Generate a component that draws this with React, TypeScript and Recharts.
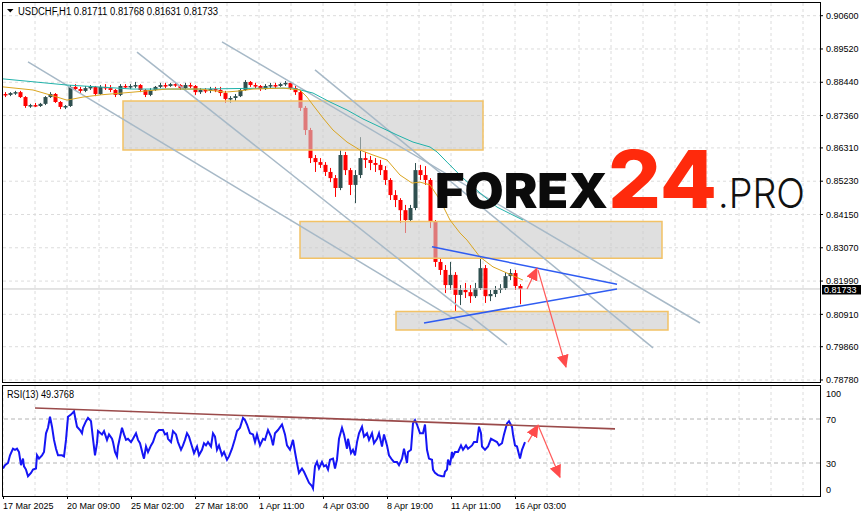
import React from 'react';
import {
  ComposedChart,
  Bar,
  Line,
  XAxis,
  YAxis,
  CartesianGrid,
  ReferenceArea,
  ReferenceLine,
} from 'recharts';

// ---------- DATA ----------
// H1 USDCHF candles aggregated in 5-hour buckets (hours counted from the first visible bar)
const opens = [
  0.8806, 0.8803, 0.8809, 0.8812, 0.8796, 0.8767, 0.877, 0.8767, 0.8774, 0.8796,
  0.8806, 0.878, 0.8764, 0.8767, 0.8829, 0.8822, 0.8816, 0.8825, 0.8829, 0.8806,
  0.8829, 0.8825, 0.8819, 0.8803, 0.8832, 0.8829, 0.8832, 0.8835, 0.8819, 0.8803,
  0.8819, 0.8829, 0.8835, 0.8832, 0.8838, 0.8835, 0.8825, 0.8835, 0.8832, 0.8812,
  0.8819, 0.8816, 0.8822, 0.8819, 0.8809, 0.879, 0.8793, 0.8799, 0.8819, 0.8845,
  0.8835, 0.8832, 0.8822, 0.8832, 0.8835, 0.8832, 0.8838, 0.8842, 0.8825, 0.8812,
  0.8761, 0.8689, 0.8598, 0.8585, 0.8576, 0.8553, 0.8533, 0.8501, 0.8608, 0.8559,
  0.8511, 0.8543, 0.8598, 0.8592, 0.8582, 0.8576, 0.8559, 0.8527, 0.8478, 0.8462,
  0.8429, 0.8397, 0.8436, 0.8559, 0.8543, 0.8527, 0.8391, 0.8261, 0.8235, 0.8186,
  0.8219, 0.8154, 0.817, 0.8163, 0.815, 0.8176, 0.8241, 0.815, 0.8157, 0.817,
  0.8176, 0.8215, 0.8225, 0.8183,
];
const highs = [
  0.8812, 0.8812, 0.8816, 0.8816, 0.8799, 0.8774, 0.8777, 0.8777, 0.8799, 0.8812,
  0.8809, 0.8783, 0.877, 0.8835, 0.8838, 0.8829, 0.8832, 0.8835, 0.8832, 0.8835,
  0.8838, 0.8835, 0.8822, 0.8838, 0.8838, 0.8838, 0.8845, 0.8838, 0.8822, 0.8825,
  0.8832, 0.8842, 0.8842, 0.8842, 0.8845, 0.8838, 0.8842, 0.8842, 0.8835, 0.8825,
  0.8825, 0.8829, 0.8829, 0.8829, 0.8816, 0.8799, 0.8806, 0.8825, 0.8851, 0.8848,
  0.8842, 0.8835, 0.8838, 0.8842, 0.8842, 0.8842, 0.8848, 0.8845, 0.8832, 0.8819,
  0.8767, 0.8696, 0.8608, 0.8598, 0.8585, 0.8566, 0.8543, 0.8624, 0.8618, 0.8566,
  0.8559, 0.8666, 0.8618, 0.8605, 0.8598, 0.8592, 0.8572, 0.8533, 0.8494, 0.8468,
  0.8446, 0.8446, 0.8582, 0.8576, 0.8572, 0.8533, 0.8397, 0.8274, 0.8251, 0.8261,
  0.8228, 0.8186, 0.8193, 0.8186, 0.8193, 0.8271, 0.8251, 0.817, 0.8183, 0.8189,
  0.8228, 0.8238, 0.8235, 0.8189,
];
const lows = [
  0.8796, 0.8799, 0.8803, 0.8793, 0.8761, 0.8761, 0.8764, 0.8764, 0.877, 0.8793,
  0.8777, 0.8757, 0.8757, 0.8764, 0.8816, 0.8809, 0.8812, 0.8819, 0.8799, 0.8803,
  0.8819, 0.8812, 0.8796, 0.8799, 0.8825, 0.8822, 0.8825, 0.8812, 0.8796, 0.8799,
  0.8816, 0.8825, 0.8825, 0.8829, 0.8829, 0.8819, 0.8822, 0.8825, 0.8803, 0.8806,
  0.8809, 0.8809, 0.8812, 0.8799, 0.8777, 0.8777, 0.8783, 0.8796, 0.8816, 0.8829,
  0.8825, 0.8816, 0.8819, 0.8825, 0.8825, 0.8829, 0.8832, 0.8819, 0.8803, 0.8751,
  0.8673, 0.8582, 0.8553, 0.8566, 0.854, 0.852, 0.8472, 0.8494, 0.8543, 0.8478,
  0.8452, 0.8533, 0.8566, 0.8559, 0.8553, 0.8543, 0.8511, 0.8462, 0.8439, 0.8387,
  0.8355, 0.8391, 0.8429, 0.8527, 0.8511, 0.8371, 0.8245, 0.8219, 0.816, 0.817,
  0.8099, 0.8121, 0.8144, 0.8128, 0.8144, 0.817, 0.8128, 0.8134, 0.8147, 0.816,
  0.817, 0.8202, 0.817, 0.8124,
];
const closes = [
  0.8803, 0.8809, 0.8812, 0.8796, 0.8767, 0.877, 0.8767, 0.8774, 0.8796, 0.8806,
  0.878, 0.8764, 0.8767, 0.8829, 0.8822, 0.8816, 0.8825, 0.8829, 0.8806, 0.8829,
  0.8825, 0.8819, 0.8803, 0.8832, 0.8829, 0.8832, 0.8835, 0.8819, 0.8803, 0.8819,
  0.8829, 0.8835, 0.8832, 0.8838, 0.8835, 0.8825, 0.8835, 0.8832, 0.8812, 0.8819,
  0.8816, 0.8822, 0.8819, 0.8809, 0.879, 0.8793, 0.8799, 0.8819, 0.8845, 0.8835,
  0.8832, 0.8822, 0.8832, 0.8835, 0.8832, 0.8838, 0.8842, 0.8825, 0.8812, 0.8761,
  0.8689, 0.8598, 0.8585, 0.8576, 0.8553, 0.8533, 0.8501, 0.8608, 0.8559, 0.8511,
  0.8543, 0.8598, 0.8592, 0.8582, 0.8576, 0.8559, 0.8527, 0.8478, 0.8462, 0.8429,
  0.8397, 0.8436, 0.8559, 0.8543, 0.8527, 0.8391, 0.8261, 0.8235, 0.8186, 0.8219,
  0.8154, 0.817, 0.8163, 0.815, 0.8176, 0.8241, 0.815, 0.8157, 0.817, 0.8176,
  0.8215, 0.8225, 0.8183, 0.8173,
];

// moving averages: [hour, price]
const maSlowPoints: [number, number][] = [
  [0, 0.8855], [64, 0.8835], [130, 0.8822], [197, 0.8822], [264, 0.8825], [290, 0.8825],
  [310, 0.8809], [327, 0.878], [344, 0.8754], [360, 0.8725], [377, 0.8699], [394, 0.8673],
  [410, 0.865], [427, 0.8634], [434, 0.8618], [444, 0.8585], [460, 0.8533], [477, 0.8485],
  [494, 0.8439], [510, 0.8413], [520, 0.8397],
];
const maFastPoints: [number, number][] = [
  [0, 0.8829], [30, 0.8819], [47, 0.8803], [64, 0.8786], [80, 0.8796], [97, 0.8803],
  [130, 0.8812], [164, 0.8822], [197, 0.8822], [222, 0.8812], [237, 0.8816], [250, 0.8822],
  [280, 0.8825], [297, 0.8819], [304, 0.8796], [310, 0.877], [320, 0.8728], [330, 0.8689],
  [344, 0.865], [357, 0.8624], [370, 0.8608], [384, 0.8592], [397, 0.8543], [409, 0.8517],
  [417, 0.852], [427, 0.8511], [437, 0.8462], [447, 0.8397], [457, 0.8355], [464, 0.8332],
  [477, 0.8277], [490, 0.8245], [504, 0.8225], [520, 0.8202],
];

// RSI(13): [hour, value]
const rsiPoints: [number, number][] = [
  [0, 25], [2, 28], [5, 30], [7, 37], [10, 43], [12, 42], [14, 43], [16, 40], [18, 28], [20, 34],
  [21, 27], [23, 24], [25, 18], [28, 21], [30, 24], [33, 25], [34, 37], [36, 34], [39, 37], [41, 40],
  [43, 57], [45, 62], [47, 72], [49, 63], [51, 51], [53, 43], [55, 37], [59, 37], [61, 36], [63, 51],
  [65, 72], [68, 74], [71, 77], [74, 63], [77, 60], [79, 57], [80, 62], [83, 68], [85, 71], [88, 68],
  [90, 52], [92, 37], [94, 48], [95, 59], [99, 56], [101, 59], [104, 51], [106, 56], [109, 52], [110, 49],
  [112, 40], [114, 36], [115, 45], [119, 62], [121, 56], [123, 51], [125, 52], [128, 49], [130, 52], [133, 57],
  [135, 51], [137, 48], [140, 37], [141, 34], [143, 45], [145, 40], [148, 46], [150, 49], [153, 57], [156, 60],
  [160, 60], [162, 56], [164, 57], [165, 52], [168, 49], [170, 59], [173, 56], [175, 49], [178, 42], [180, 46],
  [182, 51], [184, 57], [186, 54], [189, 45], [191, 39], [194, 45], [196, 37], [199, 42], [201, 48], [203, 46],
  [205, 49], [208, 45], [210, 57], [212, 54], [214, 42], [216, 46], [219, 37], [221, 40], [224, 33], [226, 36],
  [229, 43], [232, 52], [234, 59], [237, 62], [240, 71], [242, 69], [244, 65], [247, 57], [250, 56], [252, 49],
  [254, 56], [257, 46], [260, 52], [262, 51], [265, 60], [268, 54], [270, 46], [272, 57], [275, 60], [279, 65],
  [282, 56], [284, 46], [287, 42], [290, 51], [292, 40], [294, 30], [296, 21], [299, 25], [301, 22], [304, 16],
  [306, 12], [309, 9], [310, 7], [312, 27], [314, 31], [316, 25], [319, 31], [321, 27], [323, 28], [325, 24],
  [327, 33], [330, 34], [332, 25], [334, 33], [336, 52], [339, 62], [341, 56], [344, 43], [345, 52], [348, 39],
  [350, 42], [352, 37], [354, 49], [356, 57], [359, 63], [361, 54], [364, 57], [366, 51], [369, 57], [371, 48],
  [374, 52], [376, 57], [379, 45], [381, 56], [384, 46], [386, 37], [389, 33], [391, 31], [394, 31], [396, 28],
  [399, 34], [401, 43], [404, 30], [405, 40], [408, 42], [410, 66], [412, 69], [414, 65], [417, 57], [420, 57],
  [422, 65], [424, 42], [426, 34], [429, 33], [430, 24], [432, 21], [435, 19], [439, 18], [441, 18], [442, 22],
  [444, 24], [445, 33], [447, 28], [449, 40], [450, 36], [452, 40], [455, 40], [458, 46], [460, 42], [463, 46],
  [465, 43], [469, 46], [471, 49], [474, 49], [476, 63], [478, 57], [479, 45], [482, 42], [485, 45], [488, 52],
  [490, 51], [494, 49], [496, 46], [499, 48], [501, 56], [504, 66], [506, 68], [509, 63], [510, 56], [512, 46],
  [514, 45], [517, 34], [519, 42], [522, 49],
];

// drawn objects (hour, price)
const channelLines: [number, number][][] = [
  [[219, 0.8975], [697, 0.8063]],
  [[312, 0.8884], [650, 0.7982]],
  [[25, 0.891], [470, 0.804]],
  [[134, 0.8942], [504, 0.7992]],
];
const triangleLines: [number, number][][] = [
  [[429, 0.831], [614, 0.8189]],
  [[421, 0.8063], [614, 0.8173]],
];
const priceArrows: [number, number][][] = [
  [[524, 0.8173], [534, 0.8241]],
  [[535, 0.8235], [563, 0.792]],
];
const zones = [
  { from: 120, to: 480, low: 0.8624, high: 0.8783 },
  { from: 297, to: 659, low: 0.8273, high: 0.8392 },
  { from: 393, to: 665, low: 0.804, high: 0.81 },
];
const rsiTrend: [number, number][] = [[32, 80], [612, 61]];
const rsiArrows: [number, number][][] = [
  [[525, 49], [535, 64.5]],
  [[535, 64.5], [557, 17]],
];

const priceTicks = [0.906, 0.8952, 0.8844, 0.8736, 0.8631, 0.8523, 0.8415, 0.8307, 0.8199, 0.8091, 0.7986, 0.7878];
const rsiTicks = [0, 30, 70, 100];
const gridTicks = [0, 32, 64, 96, 128, 160, 192, 224, 256, 288, 320, 352, 384, 416, 448, 480, 512, 544, 576, 608, 640, 672, 704, 736, 768, 800];
const dateTicks = [0, 64, 128, 192, 256, 320, 384, 448, 512];
const dateLabels = ['17 Mar 2025', '20 Mar 09:00', '25 Mar 02:00', '27 Mar 18:00', '1 Apr 11:00', '4 Apr 03:00', '8 Apr 19:00', '11 Apr 11:00', '16 Apr 03:00'];
const lastBar = { open: 0.81711, high: 0.81768, low: 0.81631, close: 0.81733 };
const rsiLast = 49.3768;

// ---------- BUILD ----------
const candles = opens.map((o, k) => ({
  idx: k * 5 + 2.5,
  open: o,
  high: highs[k],
  low: lows[k],
  close: closes[k],
  range: [lows[k], highs[k]],
}));
const toRows = (pts: [number, number][]) => pts.map(([idx, v]) => ({ idx, v }));
const rsiData = toRows(rsiPoints);

const FONT = 'Liberation Sans, Arial, sans-serif';
const X_DOMAIN: [number, number] = [0, 817];

const Candle = (props: any) => {
  const { x, y, width, height, payload } = props;
  if (!payload || !isFinite(y) || !isFinite(height)) return <g />;
  const { open, close, high, low } = payload;
  const up = close >= open;
  const color = up ? '#2f4f4f' : '#ff0000';
  const k = height / Math.max(high - low, 1e-9);
  const c = Math.round(x + width / 2);
  const top = y + (high - Math.max(open, close)) * k;
  const bh = Math.max(1.5, Math.abs(close - open) * k);
  return (
    <g>
      <line x1={c + 0.5} x2={c + 0.5} y1={y} y2={y + height} stroke={color} strokeWidth={1} />
      <rect x={c - 1.5} y={top} width={4} height={bh} fill={color} />
    </g>
  );
};

const PriceTag = (props: any) => {
  const vb = props.viewBox || {};
  const x = (vb.x || 0) + (vb.width || 0) + 2;
  const y = vb.y || 0;
  return (
    <g>
      <rect x={x} y={y - 4} width={39} height={9.5} fill="#000" />
      <text x={x + 2} y={y + 4} fill="#fff" fontSize={9} fontFamily={FONT}>
        {lastBar.close.toFixed(5)}
      </text>
    </g>
  );
};

const DateTick = (props: any) => {
  const { x, y, payload } = props;
  const i = dateTicks.indexOf(payload?.value);
  if (i < 0) return <g />;
  return (
    <g>
      <line x1={x + 0.5} x2={x + 0.5} y1={y} y2={y + 3} stroke="#000" />
      <text x={x} y={y + 13} fontSize={9} fontFamily={FONT} fill="#000" textAnchor="start">
        {dateLabels[i]}
      </text>
    </g>
  );
};

const RsiTick = (props: any) => {
  const { x, y, payload } = props;
  const v = payload?.value;
  const shift = v === 100 ? 7 : v === 0 ? -7 : 0;
  return (
    <text x={x} y={y + shift + 3.5} fontSize={9} fontFamily={FONT} fill="#000" textAnchor="start">
      {v}
    </text>
  );
};

export default function App() {
  return (
    <div style={{ position: 'absolute', left: 0, top: 0, width: 866, height: 517, background: '#fff', overflow: 'hidden' }}>
      <div style={{ position: 'absolute', left: 0, top: 0 }}>
        <ComposedChart width={866} height={384} data={candles} margin={{ top: 3, right: 0, bottom: 2, left: 3 }}>
          <defs>
            <marker id="arrowHeadRed" markerUnits="userSpaceOnUse" markerWidth="14" markerHeight="12" refX="12" refY="6" orient="auto">
              <path d="M0,0 L13,6 L0,12 Z" fill="#ff4b4b" />
            </marker>
          </defs>
          <CartesianGrid stroke="#dcdcdc" strokeDasharray="3 3" verticalValues={gridTicks} horizontalValues={priceTicks} />
          <XAxis dataKey="idx" type="number" domain={X_DOMAIN} ticks={gridTicks} hide allowDataOverflow />
          <YAxis
            orientation="right"
            width={46}
            domain={[0.78715, 0.91012]}
            ticks={priceTicks}
            interval={0}
            allowDataOverflow
            axisLine={false}
            tickSize={3}
            tickMargin={3}
            tickLine={{ stroke: '#000' }}
            tick={{ fontSize: 9, fill: '#000', fontFamily: FONT }}
            tickFormatter={(v: number) => v.toFixed(5)}
          />
          <ReferenceLine y={lastBar.close} stroke="#c8c8c8" label={<PriceTag />} />
          {channelLines.map((s, i) => (
            <Line key={'ch' + i} data={toRows(s)} dataKey="v" stroke="#a7b9c7" strokeWidth={1.5} dot={false} activeDot={false} isAnimationActive={false} />
          ))}
          <Bar dataKey="range" shape={<Candle />} barSize={3} isAnimationActive={false} />
          <Line data={toRows(maSlowPoints)} dataKey="v" stroke="#20b2aa" strokeWidth={1} dot={false} activeDot={false} isAnimationActive={false} />
          <Line data={toRows(maFastPoints)} dataKey="v" stroke="#daa520" strokeWidth={1} dot={false} activeDot={false} isAnimationActive={false} />
          {zones.map((z, i) => (
            <ReferenceArea key={'z' + i} x1={z.from} x2={z.to} y1={z.low} y2={z.high} fill="#c9c9c9" fillOpacity={0.6} stroke="#f2c266" strokeWidth={1.5} strokeOpacity={1} ifOverflow="visible" zIndex={350} />
          ))}
          {triangleLines.map((s, i) => (
            <Line key={'tr' + i} data={toRows(s)} dataKey="v" stroke="#2f5cf2" strokeWidth={1.5} dot={false} activeDot={false} isAnimationActive={false} />
          ))}
          {priceArrows.map((s, i) => (
            <Line key={'ar' + i} data={toRows(s)} dataKey="v" stroke="#ff5a5a" strokeWidth={1.2} dot={false} activeDot={false} isAnimationActive={false} markerEnd="url(#arrowHeadRed)" />
          ))}
        </ComposedChart>
      </div>
      <div style={{ position: 'absolute', left: 0, top: 380 }}>
        <ComposedChart width={866} height={137} data={rsiData} margin={{ top: 6, right: 0, bottom: 0, left: 3 }}>
          <defs>
            <marker id="arrowHeadRed2" markerUnits="userSpaceOnUse" markerWidth="14" markerHeight="12" refX="12" refY="6" orient="auto">
              <path d="M0,0 L13,6 L0,12 Z" fill="#ff4b4b" />
            </marker>
          </defs>
          <CartesianGrid stroke="#dcdcdc" strokeDasharray="3 3" horizontal={false} verticalValues={gridTicks} />
          <XAxis
            dataKey="idx"
            type="number"
            domain={X_DOMAIN}
            ticks={gridTicks}
            interval={0}
            allowDataOverflow
            height={21}
            axisLine={false}
            tickLine={false}
            tickSize={0}
            tickMargin={0}
            tick={<DateTick />}
          />
          <YAxis
            orientation="right"
            width={46}
            domain={[0, 100]}
            ticks={rsiTicks}
            interval={0}
            allowDataOverflow
            axisLine={false}
            tickSize={3}
            tickMargin={3}
            tickLine={false}
            tick={<RsiTick />}
          />
          <ReferenceLine y={70} stroke="#b4b4b4" strokeDasharray="4 3" />
          <ReferenceLine y={30} stroke="#b4b4b4" strokeDasharray="4 3" />
          <Line dataKey="v" stroke="#1515f5" strokeWidth={2} dot={false} activeDot={false} isAnimationActive={false} />
          <Line data={toRows(rsiTrend)} dataKey="v" stroke="#9a4a4a" strokeWidth={1.6} dot={false} activeDot={false} isAnimationActive={false} />
          {rsiArrows.map((s, i) => (
            <Line key={'ra' + i} data={toRows(s)} dataKey="v" stroke="#ff5a5a" strokeWidth={1.2} dot={false} activeDot={false} isAnimationActive={false} markerEnd="url(#arrowHeadRed2)" />
          ))}
        </ComposedChart>
      </div>
      <svg width={866} height={517} style={{ position: 'absolute', left: 0, top: 0, pointerEvents: 'none' }}>
        <rect x={2.5} y={2.5} width={818} height={380} fill="none" stroke="#000" strokeWidth={1} />
        <rect x={2.5} y={385.5} width={818} height={111} fill="none" stroke="#000" strokeWidth={1} />
        <polygon points="7,9 13.5,9 10.25,12.5" fill="#000" />
        <text x={18} y={14.5} fontSize={10} fontFamily={FONT} fill="#000" textLength={200} lengthAdjust="spacingAndGlyphs">
          {`USDCHF,H1  ${lastBar.open.toFixed(5)} ${lastBar.high.toFixed(5)} ${lastBar.low.toFixed(5)} ${lastBar.close.toFixed(5)}`}
        </text>
        <text x={7} y={398} fontSize={10} fontFamily={FONT} fill="#000" textLength={67} lengthAdjust="spacingAndGlyphs">
          {`RSI(13) ${rsiLast.toFixed(4)}`}
        </text>
        <text x={435} y={208} fontFamily="Inter, sans-serif" fontWeight={900} fontSize={48} fill="#0b0b0b" textLength={173} lengthAdjust="spacingAndGlyphs">
          FOREX
        </text>
        <text x={608} y={208} fontFamily="Inter, sans-serif" fontWeight={800} fontSize={80} fill="#ff2a0c" textLength={109} lengthAdjust="spacingAndGlyphs">
          24
        </text>
        <text x={718} y={208} fontFamily="Inter, sans-serif" fontWeight={300} fontSize={41} fill="#111" textLength={87} lengthAdjust="spacingAndGlyphs">
          .PRO
        </text>
      </svg>
    </div>
  );
}
